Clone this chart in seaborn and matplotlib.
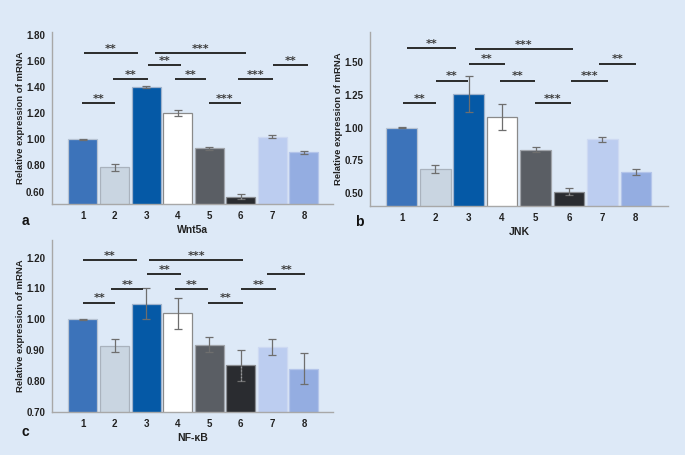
import numpy as np
import pandas as pd
import seaborn as sns
import matplotlib.pyplot as plt

groups = ["1", "2", "3", "4", "5", "6", "7", "8"]
bar_colors = ["#3c73ba", "#c9d5e1", "#0559a6", "#ffffff",
              "#5a5e64", "#2a2c30", "#bccdf0", "#94ade1"]
edge_colors = ["#b7c3d3", "#a9b2bd", "#9fb2cc", "#8a8a8a",
               "#a0a4aa", "#8a8d92", "#cdd9f2", "#b4c5ea"]

# panel a - Wnt5a
wnt5a_mean = [1.00, 0.785, 1.40, 1.20, 0.93, 0.56, 1.02, 0.90]
wnt5a_err = [0.004, 0.025, 0.008, 0.025, 0.012, 0.02, 0.01, 0.01]
wnt5a_sig = [(-0.03, 1.02, 1.277, "**"), (0.95, 2.06, 1.461, "**"),
             (0.02, 1.74, 1.66, "**"), (2.06, 3.11, 1.565, "**"),
             (2.29, 5.17, 1.66, "***"), (2.92, 3.90, 1.461, "**"),
             (4.00, 5.00, 1.277, "***"), (4.92, 6.03, 1.461, "***"),
             (6.03, 7.13, 1.565, "**")]

# panel b - JNK
jnk_mean = [1.00, 0.68, 1.255, 1.08, 0.83, 0.51, 0.91, 0.66]
jnk_err = [0.003, 0.03, 0.14, 0.10, 0.018, 0.025, 0.02, 0.02]
jnk_sig = [(0.05, 1.03, 1.187, "**"), (1.03, 1.97, 1.357, "**"),
           (0.17, 1.63, 1.607, "**"), (2.00, 3.08, 1.489, "**"),
           (2.18, 5.12, 1.60, "***"), (2.93, 3.99, 1.357, "**"),
           (3.99, 5.05, 1.187, "***"), (5.05, 6.17, 1.357, "***"),
           (5.90, 7.00, 1.489, "**")]

# panel c - NF-kB
nfkb_mean = [1.00, 0.915, 1.05, 1.02, 0.918, 0.852, 0.91, 0.84]
nfkb_err = [0.001, 0.022, 0.05, 0.05, 0.025, 0.05, 0.025, 0.05]
nfkb_sig = [(0.00, 1.03, 1.054, "**"), (0.90, 1.90, 1.098, "**"),
            (0.00, 1.70, 1.192, "**"), (2.03, 3.12, 1.147, "**"),
            (2.10, 5.08, 1.192, "***"), (2.90, 3.96, 1.098, "**"),
            (3.96, 5.08, 1.054, "**"), (5.00, 6.10, 1.098, "**"),
            (5.84, 7.03, 1.147, "**")]

bg = "#dde9f7"
sns.set_style("white")
plt.rcParams["font.family"] = ["Liberation Sans", "DejaVu Sans"]

fig = plt.figure(figsize=(6.85, 4.55), dpi=100, facecolor=bg)
W, H = 685, 455


def make_ax(l, r, t, b):
    return fig.add_axes([l / W, 1 - b / H, (r - l) / W, (b - t) / H])


def draw_panel(ax, mean, err, sig, ylim, yticks, fmt, xlabel, letter, letter_xy):
    ax.set_facecolor(bg)
    df = pd.DataFrame({"group": groups, "value": mean})
    sns.barplot(data=df, x="group", y="value", hue="group", palette=bar_colors,
                saturation=1, legend=False, width=0.92, ax=ax, linewidth=0.9)
    for patch, ec in zip(ax.patches, edge_colors):
        patch.set_edgecolor(ec)
    ax.errorbar(np.arange(len(groups)), mean, yerr=err, fmt="none",
                ecolor="#6e6e6e", elinewidth=0.9, capsize=3, capthick=0.9)
    # dotted lower whisker inside the dark bar
    ax.vlines(5, mean[5] - err[5], mean[5], colors="#9a9da3",
              linestyles=":", linewidth=0.9, zorder=5)
    for x1, x2, y, lab in sig:
        ax.plot([x1, x2], [y, y], color="#2b2b2b", lw=1.4, solid_capstyle="butt")
        ax.annotate(lab, ((x1 + x2) / 2, y), xytext=(0, 1.0), textcoords="offset points",
                    ha="center", va="baseline", fontsize=8, fontweight="bold",
                    family="DejaVu Sans", color="#3a3a3a")
    ax.set_ylim(*ylim)
    ax.set_yticks(yticks)
    ax.set_yticklabels([fmt.format(v) for v in yticks])
    ax.set_xlim(-0.98, 7.92)
    ax.set_xlabel(xlabel, fontsize=7.5, fontweight="bold", color="#222222", labelpad=3)
    ax.set_ylabel("Relative expression of mRNA", fontsize=6.8,
                  fontweight="bold", color="#222222", labelpad=1)
    ax.tick_params(axis="both", labelsize=7, colors="#999999", length=3,
                   width=0.8, labelcolor="#222222", pad=2)
    for lab in ax.get_xticklabels() + ax.get_yticklabels():
        lab.set_fontweight("bold")
    for s in ["top", "right"]:
        ax.spines[s].set_visible(False)
    for s in ["left", "bottom"]:
        ax.spines[s].set_color("#a8a8a8")
        ax.spines[s].set_linewidth(1.0)
    fig.text(letter_xy[0] / W, 1 - letter_xy[1] / H, letter, fontsize=10,
             fontweight="bold", color="#111111", ha="left", va="center")


ax_a = make_ax(52, 333, 32, 204)
draw_panel(ax_a, wnt5a_mean, wnt5a_err, wnt5a_sig, (0.505, 1.82),
           [0.60, 0.80, 1.00, 1.20, 1.40, 1.60, 1.80], "{:.2f}", "Wnt5a", "a", (22, 221))

ax_b = make_ax(370, 668, 32, 206)
draw_panel(ax_b, jnk_mean, jnk_err, jnk_sig, (0.40, 1.73),
           [0.50, 0.75, 1.00, 1.25, 1.50], "{:.2f}", "JNK", "b", (355, 222))
ax_b.set_xlim(-0.95, 7.96)

ax_c = make_ax(52, 333, 240, 412)
draw_panel(ax_c, nfkb_mean, nfkb_err, nfkb_sig, (0.70, 1.257),
           [0.70, 0.80, 0.90, 1.00, 1.10, 1.20], "{:.2f}", "NF-κB", "c", (22, 432))

fig.savefig("out.png", dpi=100, facecolor=bg)
